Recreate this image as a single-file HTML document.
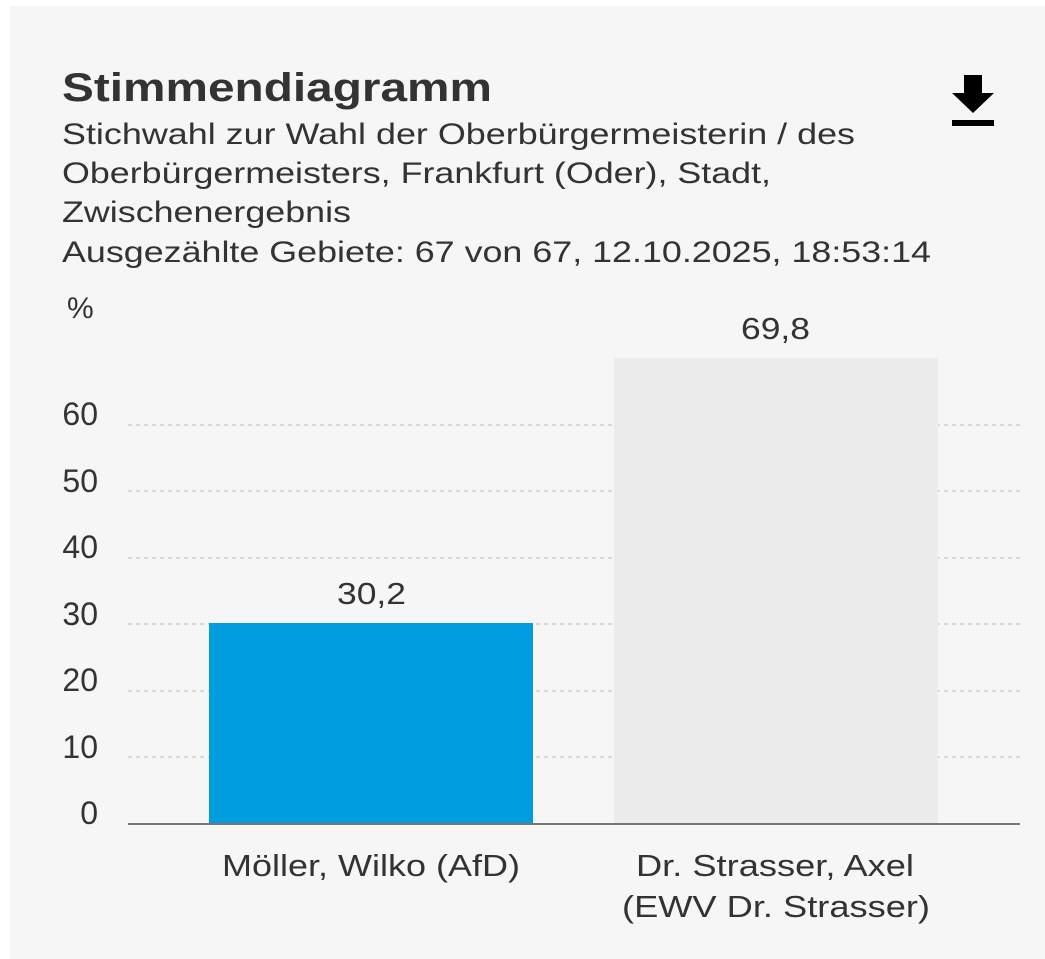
<!DOCTYPE html>
<html><head><meta charset="utf-8"><style>
body{margin:0;background:#fff;width:1045px;height:959px;overflow:hidden;font-family:"Liberation Sans",sans-serif;color:#333}
.p{position:absolute;left:10px;top:6px;width:1035px;height:953px;background:#f6f6f6}
</style></head><body>
<div class="p"></div>
<svg width="1045" height="959" style="position:absolute;left:0;top:0" font-family="Liberation Sans, sans-serif">
<text x="62" y="101" font-size="40" font-weight="bold" fill="#333" textLength="430" lengthAdjust="spacingAndGlyphs">Stimmendiagramm</text>
<g font-size="30" fill="#333">
<text x="62" y="144" textLength="793" lengthAdjust="spacingAndGlyphs">Stichwahl zur Wahl der Oberbürgermeisterin / des</text>
<text x="62" y="183" textLength="709" lengthAdjust="spacingAndGlyphs">Oberbürgermeisters, Frankfurt (Oder), Stadt,</text>
<text x="62" y="222" textLength="289" lengthAdjust="spacingAndGlyphs">Zwischenergebnis</text>
<text x="62" y="262" textLength="869" lengthAdjust="spacingAndGlyphs">Ausgezählte Gebiete: 67 von 67, 12.10.2025, 18:53:14</text>
<text x="67" y="318">%</text>
</g>
<rect x="964" y="75" width="18" height="18" fill="#000"/>
<polygon points="952,93 994,93 973,113" fill="#000"/>
<rect x="952" y="120" width="42" height="6" fill="#000"/>
<g stroke="#d8d8d8" stroke-width="2" stroke-dasharray="4,4">
<line x1="128" x2="1020" y1="757" y2="757"/><line x1="128" x2="1020" y1="691" y2="691"/>
<line x1="128" x2="1020" y1="624" y2="624"/><line x1="128" x2="1020" y1="558" y2="558"/>
<line x1="128" x2="1020" y1="491" y2="491"/><line x1="128" x2="1020" y1="425" y2="425"/>
</g>
<rect x="209" y="623" width="324" height="201" fill="#009ee0"/>
<rect x="614" y="358" width="324" height="466" fill="#ececec"/>
<line x1="128" x2="1020" y1="824" y2="824" stroke="#777" stroke-width="2"/>
<g font-size="32" fill="#333" text-anchor="end">
<text x="98" y="824">0</text><text x="98" y="758">10</text><text x="98" y="691">20</text>
<text x="98" y="625">30</text><text x="98" y="558">40</text><text x="98" y="492">50</text><text x="98" y="425">60</text>
</g>
<g font-size="31" fill="#333">
<text x="337" y="604" textLength="69" lengthAdjust="spacingAndGlyphs">30,2</text>
<text x="741" y="339" textLength="69" lengthAdjust="spacingAndGlyphs">69,8</text>
<text x="222" y="876" textLength="298" lengthAdjust="spacingAndGlyphs">Möller, Wilko (AfD)</text>
<text x="636" y="876" textLength="278" lengthAdjust="spacingAndGlyphs">Dr. Strasser, Axel</text>
<text x="622" y="917" textLength="308" lengthAdjust="spacingAndGlyphs">(EWV Dr. Strasser)</text>
</g>
</svg>
</body></html>
